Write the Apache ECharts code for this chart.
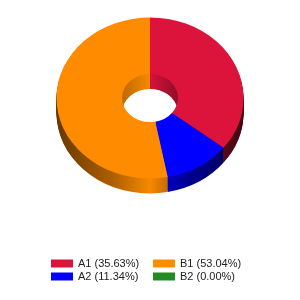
<!DOCTYPE html>
<html><head><meta charset="utf-8">
<script src="https://cdn.jsdelivr.net/npm/echarts@6/dist/echarts.min.js"></script>
<style>html,body{margin:0;padding:0;background:#fff}#c{width:300px;height:300px}</style>
</head><body><div id="c"></div>
<script>
const categories = ['A1', 'A2', 'B1', 'B2'];
const percents = [35.63, 11.34, 53.04, 0.00];
const colors = ['#DC143C', '#0000FF', '#FF8C00', '#228B22'];

const CX = 150, CY = 98, R = 93.5, R0 = 28, K = 0.861, DEPTH = 15;
const total = percents.reduce((a, b) => a + b, 0);

function shade(hex, f) {
  const n = parseInt(hex.slice(1), 16);
  const r = Math.min(255, Math.round(((n >> 16) & 255) * f));
  const g = Math.min(255, Math.round(((n >> 8) & 255) * f));
  const b = Math.min(255, Math.round((n & 255) * f));
  return 'rgb(' + r + ',' + g + ',' + b + ')';
}
function sideFill(hex) {
  const stops = [[0, 0.4], [0.3, 0.68], [0.5, 0.97], [0.68, 0.6], [1, 0.3]];
  return {
    type: 'linear', global: true, x: CX - R, y: 0, x2: CX + R, y2: 0,
    colorStops: stops.map(s => ({ offset: s[0], color: shade(hex, s[1]) }))
  };
}

function makeRender(idx) {
  return function (params, api) {
    if (!(percents[idx] > 0)) return { type: 'group', children: [] };
    let before = 0;
    for (let j = 0; j < idx; j++) before += percents[j];
    const a0 = -Math.PI / 2 + before / total * Math.PI * 2;
    const a1 = a0 + percents[idx] / total * Math.PI * 2;
    const shape = { cx: CX, cy: CY, r0: R0, r: R, startAngle: a0, endAngle: a1, clockwise: true };
    const children = [];
    const fill = sideFill(colors[idx]);
    for (let d = DEPTH; d >= 1; d--) {
      children.push({
        type: 'sector', shape: shape, originX: CX, originY: CY, scaleY: K, y: d,
        z2: DEPTH - d, style: { fill: fill }
      });
    }
    children.push({
      type: 'sector', shape: shape, originX: CX, originY: CY, scaleY: K, y: 0,
      z2: 100, style: { fill: colors[idx] }
    });
    return { type: 'group', children: children };
  };
}

const series = categories.map((name, i) => ({
  type: 'custom', name: name, coordinateSystem: 'none',
  data: [[percents[i]]], itemStyle: { color: colors[i] },
  renderItem: makeRender(i), silent: true
}));

const legendCommon = {
  orient: 'vertical', icon: 'rect', itemWidth: 22, itemHeight: 8, itemGap: 0,
  top: 252,
  textStyle: { fontSize: 11, color: '#222', fontFamily: 'Liberation Sans', lineHeight: 13 },
  formatter: name => name + ' (' + percents[categories.indexOf(name)].toFixed(2) + '%)'
};

const chart = echarts.init(document.getElementById('c'));
chart.setOption({
  animation: false,
  legend: [
    Object.assign({}, legendCommon, { data: ['A1', 'A2'], left: 46 }),
    Object.assign({}, legendCommon, { data: ['B1', 'B2'], left: 148 })
  ],
  series: series
});
</script></body></html>
